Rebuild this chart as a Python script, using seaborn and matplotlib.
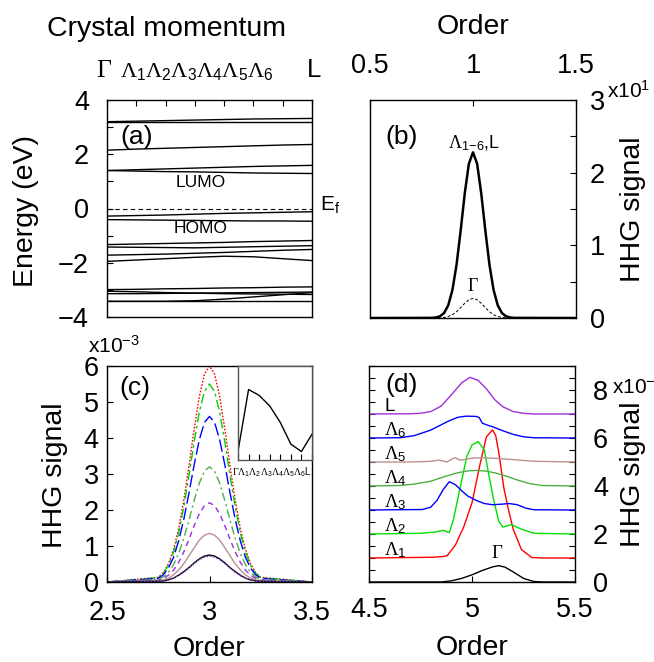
import matplotlib
matplotlib.use("Agg")
import matplotlib.pyplot as plt
import seaborn as sns
from matplotlib.ticker import MultipleLocator

# ---------------- data ----------------
k_labels = [r"$\Gamma$", r"$\Lambda_{\mathsf{1}}$", r"$\Lambda_{\mathsf{2}}$", r"$\Lambda_{\mathsf{3}}$",
            r"$\Lambda_{\mathsf{4}}$", r"$\Lambda_{\mathsf{5}}$", r"$\Lambda_{\mathsf{6}}$", "L"]
k_index = [0, 1, 2, 3, 4, 5, 6, 7]

# (a) band energies (eV) at Gamma, Lambda1..6, L
band_01 = [3.20, 3.22, 3.24, 3.26, 3.28, 3.30, 3.31, 3.32]
band_02 = [3.20, 3.20, 3.20, 3.20, 3.20, 3.20, 3.20, 3.20]
band_03 = [2.15, 2.19, 2.22, 2.25, 2.28, 2.31, 2.34, 2.36]
band_04 = [1.40, 1.43, 1.46, 1.49, 1.52, 1.55, 1.57, 1.59]
band_05 = [1.40, 1.38, 1.36, 1.35, 1.33, 1.31, 1.30, 1.29]
band_06 = [-0.28, -0.26, -0.24, -0.21, -0.18, -0.16, -0.14, -0.12]
band_07 = [-0.41, -0.42, -0.43, -0.44, -0.45, -0.46, -0.46, -0.47]
band_08 = [-1.33, -1.31, -1.29, -1.27, -1.25, -1.22, -1.20, -1.18]
band_09 = [-1.42, -1.43, -1.44, -1.45, -1.43, -1.41, -1.39, -1.37]
band_10 = [-1.72, -1.70, -1.68, -1.65, -1.62, -1.58, -1.54, -1.51]
band_11 = [-1.95, -1.90, -1.85, -1.80, -1.76, -1.78, -1.85, -1.92]
band_12 = [-2.99, -2.98, -2.96, -2.95, -2.93, -2.92, -2.90, -2.89]
band_13 = [-3.05, -3.07, -3.10, -3.12, -3.14, -3.15, -3.16, -3.17]
band_14 = [-3.14, -3.14, -3.13, -3.12, -3.11, -3.10, -3.09, -3.08]
band_15 = [-3.42, -3.42, -3.42, -3.42, -3.42, -3.42, -3.42, -3.42]
band_16 = [-3.42, -3.42, -3.42, -3.40, -3.34, -3.26, -3.18, -3.10]
bands = [band_01, band_02, band_03, band_04, band_05, band_06, band_07, band_08,
         band_09, band_10, band_11, band_12, band_13, band_14, band_15, band_16]
fermi_level = 0.0

# (b) first harmonic (x10^1)
order_b = [0.50, 0.80, 0.82, 0.84, 0.86, 0.88, 0.90, 0.92, 0.94, 0.96, 0.98, 1.00,
           1.02, 1.04, 1.06, 1.08, 1.10, 1.12, 1.14, 1.16, 1.18, 1.20, 1.50]
hhg_b_lambda = [0, 0.002, 0.007, 0.024, 0.070, 0.176, 0.385, 0.730, 1.201, 1.715, 2.123, 2.28,
                2.123, 1.715, 1.201, 0.730, 0.385, 0.176, 0.070, 0.024, 0.007, 0.002, 0]
hhg_b_gamma = [0, 0, 0.001, 0.003, 0.008, 0.021, 0.046, 0.086, 0.142, 0.203, 0.251, 0.27,
               0.251, 0.203, 0.142, 0.086, 0.046, 0.021, 0.008, 0.003, 0.001, 0, 0]

# (c) third harmonic (x10^-3)
order_c = [2.50, 2.75, 2.775, 2.80, 2.825, 2.85, 2.875, 2.90, 2.925, 2.95, 2.975, 3.00,
           3.025, 3.05, 3.075, 3.10, 3.125, 3.15, 3.175, 3.20, 3.225, 3.25, 3.50]
hhg_c_L1 = [0, 0.13, 0.26, 0.51, 0.91, 1.49, 2.29, 3.23, 4.24, 5.14, 5.77, 6.00,
            5.77, 5.14, 4.24, 3.23, 2.29, 1.49, 0.91, 0.51, 0.26, 0.13, 0]
hhg_c_L2 = [0, 0.12, 0.24, 0.47, 0.83, 1.37, 2.10, 2.96, 3.89, 4.71, 5.29, 5.50,
            5.29, 4.71, 3.89, 2.96, 2.10, 1.37, 0.83, 0.47, 0.24, 0.12, 0]
hhg_c_L3 = [0, 0.10, 0.20, 0.39, 0.69, 1.15, 1.75, 2.48, 3.25, 3.94, 4.43, 4.60,
            4.43, 3.94, 3.25, 2.48, 1.75, 1.15, 0.69, 0.39, 0.20, 0.10, 0]
hhg_c_L4 = [0, 0.07, 0.14, 0.27, 0.48, 0.80, 1.22, 1.72, 2.26, 2.74, 3.08, 3.20,
            3.08, 2.74, 2.26, 1.72, 1.22, 0.80, 0.48, 0.27, 0.14, 0.07, 0]
hhg_c_L = [0, 0.05, 0.10, 0.19, 0.33, 0.55, 0.84, 1.19, 1.56, 1.89, 2.12, 2.20,
           2.12, 1.89, 1.56, 1.19, 0.84, 0.55, 0.33, 0.19, 0.10, 0.05, 0]
hhg_c_L5 = [0, 0.03, 0.06, 0.11, 0.20, 0.34, 0.51, 0.73, 0.95, 1.16, 1.30, 1.35,
            1.30, 1.16, 0.95, 0.73, 0.51, 0.34, 0.20, 0.11, 0.06, 0.03, 0]
hhg_c_G = [0, 0.02, 0.03, 0.06, 0.11, 0.19, 0.29, 0.40, 0.53, 0.64, 0.72, 0.75,
           0.72, 0.64, 0.53, 0.40, 0.29, 0.19, 0.11, 0.06, 0.03, 0.02, 0]
hhg_c_L6 = [0, 0.02, 0.03, 0.06, 0.11, 0.18, 0.27, 0.39, 0.51, 0.62, 0.69, 0.72,
            0.69, 0.62, 0.51, 0.39, 0.27, 0.18, 0.11, 0.06, 0.03, 0.02, 0]
# inset: peak 3rd-harmonic signal vs k-point
inset_peak = [0.75, 6.00, 5.50, 4.60, 3.20, 1.35, 0.72, 2.20]

# (d) fifth harmonic, curves offset by 1 (x10^-5)
d_G_x = [4.5, 4.85, 4.9, 4.95, 5.0, 5.05, 5.1, 5.13, 5.16, 5.2, 5.25, 5.3, 5.35, 5.5]
d_G_y = [0, 0, 0.05, 0.15, 0.30, 0.48, 0.63, 0.68, 0.62, 0.42, 0.15, 0.02, 0, 0]
d_L1_x = [4.5, 4.8, 4.86, 4.88, 4.92, 4.96, 5.0, 5.04, 5.07, 5.1, 5.115, 5.13, 5.155, 5.18, 5.2, 5.24, 5.29, 5.35, 5.5]
d_L1_y = [1.0, 1.03, 1.06, 1.10, 1.55, 2.30, 3.30, 4.95, 6.05, 6.34, 6.10, 5.40, 3.90, 2.90, 2.20, 1.35, 1.02, 1.0, 1.0]
d_L2_x = [4.5, 4.75, 4.82, 4.86, 4.89, 4.91, 4.94, 4.975, 5.0, 5.03, 5.06, 5.08, 5.105, 5.13, 5.15, 5.19, 5.24, 5.3, 5.5]
d_L2_y = [2.0, 2.03, 2.08, 2.15, 2.06, 2.60, 3.84, 5.23, 5.71, 5.85, 5.50, 4.54, 3.43, 2.52, 2.29, 2.39, 2.20, 2.03, 2.0]
d_L3_x = [4.5, 4.76, 4.8, 4.83, 4.86, 4.89, 4.92, 4.95, 4.98, 5.02, 5.06, 5.1, 5.14, 5.18, 5.22, 5.26, 5.3, 5.5]
d_L3_y = [3.0, 3.02, 3.12, 3.40, 3.85, 4.18, 4.05, 3.80, 3.58, 3.40, 3.27, 3.22, 3.24, 3.27, 3.22, 3.08, 3.01, 3.0]
d_L4_x = [4.5, 4.65, 4.72, 4.8, 4.87, 4.93, 4.98, 5.02, 5.07, 5.12, 5.17, 5.22, 5.28, 5.34, 5.5]
d_L4_y = [4.0, 4.02, 4.08, 4.20, 4.40, 4.55, 4.63, 4.65, 4.62, 4.53, 4.40, 4.25, 4.10, 4.02, 4.0]
d_L5_x = [4.5, 4.7, 4.8, 4.84, 4.86, 4.88, 4.9, 4.92, 4.94, 4.96, 5.0, 5.05, 5.1, 5.2, 5.3, 5.5]
d_L5_y = [5.0, 5.0, 5.03, 5.08, 5.04, 5.0, 5.12, 5.18, 5.08, 5.10, 5.16, 5.18, 5.16, 5.10, 5.03, 5.0]
d_L6_x = [4.5, 4.65, 4.72, 4.8, 4.88, 4.93, 4.97, 5.02, 5.035, 5.05, 5.07, 5.1, 5.15, 5.2, 5.25, 5.3, 5.5]
d_L6_y = [6.0, 6.01, 6.10, 6.33, 6.68, 6.86, 6.91, 6.90, 6.85, 6.62, 6.55, 6.47, 6.30, 6.15, 6.05, 6.01, 6.0]
d_LL_x = [4.5, 4.7, 4.75, 4.8, 4.85, 4.9, 4.95, 4.99, 5.03, 5.07, 5.11, 5.15, 5.2, 5.25, 5.3, 5.5]
d_LL_y = [7.0, 7.01, 7.03, 7.10, 7.33, 7.80, 8.30, 8.53, 8.40, 8.05, 7.60, 7.30, 7.10, 7.03, 7.0, 7.0]
d_labels = [r"$\Lambda_{\mathsf{1}}$", r"$\Lambda_{\mathsf{2}}$", r"$\Lambda_{\mathsf{3}}$", r"$\Lambda_{\mathsf{4}}$",
            r"$\Lambda_{\mathsf{5}}$", r"$\Lambda_{\mathsf{6}}$", "L"]
d_offsets = [1, 2, 3, 4, 5, 6, 7]

# ---------------- style ----------------
sns.set_theme(style="ticks")
plt.rcParams['font.family'] = ['Liberation Sans', 'DejaVu Sans']
plt.rcParams['mathtext.fontset'] = 'custom'
plt.rcParams['mathtext.rm'] = 'Liberation Serif'
plt.rcParams['mathtext.it'] = 'Liberation Serif:italic'
plt.rcParams['mathtext.bf'] = 'Liberation Serif:bold'
plt.rcParams['mathtext.sf'] = 'Liberation Sans'
plt.rcParams['axes.linewidth'] = 1.0
plt.rcParams['axes.edgecolor'] = 'black'
plt.rcParams['text.color'] = 'black'
plt.rcParams['axes.labelcolor'] = 'black'
plt.rcParams['xtick.color'] = 'black'
plt.rcParams['ytick.color'] = 'black'
plt.rcParams['xtick.labelcolor'] = 'black'
plt.rcParams['ytick.labelcolor'] = 'black'

W, H = 654, 662
fig = plt.figure(figsize=(W / 100, H / 100), dpi=100)


def box(x0, y0, x1, y1):
    return [x0 / W, 1 - y1 / H, (x1 - x0) / W, (y1 - y0) / H]


TICK = 19.5
LAB = 20.5
ax_a = fig.add_axes(box(107, 100, 312, 317))
ax_b = fig.add_axes(box(370, 100, 576, 318))
ax_c = fig.add_axes(box(107, 366, 312, 582))
ax_d = fig.add_axes(box(369, 366, 575, 582))
ax_in = fig.add_axes(box(238, 366, 312, 460))

# ---------------- (a) ----------------
for b in bands:
    sns.lineplot(x=k_index, y=b, ax=ax_a, color='black', lw=1.0, errorbar=None)
sns.lineplot(x=[k_index[0], k_index[-1]], y=[fermi_level, fermi_level], ax=ax_a,
             color='black', lw=0.8, linestyle=(0, (4, 3)), errorbar=None)
ax_a.set_xlim(0, 7)
ax_a.set_ylim(-4, 4)
ax_a.set_xticks(k_index)
ax_a.tick_params(axis='x', which='both', bottom=False, top=True, labelbottom=False,
                 labeltop=False, direction='in', length=4, width=0.8)
ax_a.set_yticks([-4, -2, 0, 2, 4])
ax_a.set_yticklabels(["\u22124", "\u22122", "0", "2", "4"])
ax_a.yaxis.set_minor_locator(MultipleLocator(1))
ax_a.tick_params(axis='y', which='both', left=True, right=False, direction='in',
                 length=4, width=0.8, labelsize=TICK, pad=13)
ax_a.set_ylabel("Energy (eV)", fontsize=LAB)
ax_a.yaxis.set_label_coords(-0.33, 0.49)
ax_a.xaxis.set_label_position('top')
ax_a.set_xlabel("Crystal momentum", fontsize=LAB)
ax_a.xaxis.set_label_coords(0.29, 1.293)
# k-point names written above the panel, as in the original (one run of text)
ax_a.text(-0.054, 1.106, k_labels[0], transform=ax_a.transAxes, ha='left', va='baseline',
          fontsize=18.5, clip_on=False)
ax_a.text(0.063, 1.106, "".join(k_labels[1:7]), transform=ax_a.transAxes, ha='left',
          va='baseline', fontsize=16, clip_on=False)
ax_a.text(0.976, 1.106, k_labels[7], transform=ax_a.transAxes, ha='left', va='baseline',
          fontsize=18.5, clip_on=False)
ax_a.text(1.0, 2.65, "(a)", fontsize=19, ha='center', va='center')
ax_a.text(3.2, 0.95, "LUMO", fontsize=12.5, ha='center', va='center')
ax_a.text(3.2, -0.72, "HOMO", fontsize=12.5, ha='center', va='center')
ax_a.text(1.039, 0.493, "E$_{\\mathsf{f}}$", transform=ax_a.transAxes, fontsize=15,
          ha='left', va='baseline', clip_on=False)

# ---------------- (b) ----------------
sns.lineplot(x=order_b, y=hhg_b_lambda, ax=ax_b, color='black', lw=1.8, errorbar=None)
sns.lineplot(x=order_b, y=hhg_b_gamma, ax=ax_b, color='black', lw=0.7,
             linestyle=(0, (3, 2)), errorbar=None)
ax_b.set_xlim(0.5, 1.5)
ax_b.set_ylim(0, 3)
ax_b.set_xticks([0.5, 1, 1.5])
ax_b.set_xticklabels(["0.5", "1", "1.5"])
ax_b.tick_params(axis='x', which='both', bottom=False, top=True, labelbottom=False,
                 labeltop=True, direction='in', length=4, width=0.8, labelsize=TICK, pad=15)
ax_b.set_yticks([0, 1, 2, 3])
ax_b.yaxis.set_minor_locator(MultipleLocator(0.5))
ax_b.tick_params(axis='y', which='both', left=False, right=True, labelleft=False,
                 labelright=True, direction='in', length=4, width=0.8, labelsize=TICK, pad=10)
ax_b.yaxis.set_label_position('right')
ax_b.set_ylabel("HHG signal", fontsize=LAB)
ax_b.yaxis.set_label_coords(1.214, 0.5)
ax_b.xaxis.set_label_position('top')
ax_b.set_xlabel("Order", fontsize=LAB)
ax_b.xaxis.set_label_coords(0.5, 1.303)
ax_b.text(1.150, 1.009, "x10$^{\\mathsf{1}}$", transform=ax_b.transAxes, fontsize=15,
          ha='left', va='baseline', clip_on=False)
ax_b.text(0.655, 2.49, "(b)", fontsize=19, ha='center', va='center')
ax_b.text(1.005, 2.40, r"$\Lambda_{\mathsf{1\!-\!6}}$,L", fontsize=13, ha='center', va='center')
ax_b.text(1.0, 0.43, r"$\Gamma$", fontsize=13, ha='center', va='center')

# ---------------- (c) ----------------
c_specs = [
    (hhg_c_L1, '#ff0000', (0, (1.2, 1.2))),
    (hhg_c_L2, '#00d000', (0, (7, 2.5, 2, 2.5))),
    (hhg_c_L3, '#0000ff', (0, (9, 3))),
    (hhg_c_L4, '#4cb040', (0, (6, 2.5, 1.5, 2.5))),
    (hhg_c_L, '#9b30e0', (0, (4, 3))),
    (hhg_c_L5, '#bc8f8f', '-'),
    (hhg_c_G, '#000000', '-'),
    (hhg_c_L6, '#8040c0', (0, (1.2, 1.2))),
]
for yy, col, ls in c_specs:
    sns.lineplot(x=order_c, y=yy, ax=ax_c, color=col, lw=1.0, linestyle=ls, errorbar=None)
ax_c.set_xlim(2.5, 3.5)
ax_c.set_ylim(0, 6)
ax_c.set_xticks([2.5, 3, 3.5])
ax_c.set_xticklabels(["2.5", "3", "3.5"])
ax_c.set_yticks([0, 1, 2, 3, 4, 5, 6])
ax_c.tick_params(axis='x', which='both', bottom=True, top=False, direction='in',
                 length=4, width=0.8, labelsize=TICK, pad=13)
ax_c.tick_params(axis='y', which='both', left=True, right=False, direction='in',
                 length=4, width=0.8, labelsize=TICK, pad=6)
ax_c.set_xlabel("Order", fontsize=LAB)
ax_c.xaxis.set_label_coords(0.5, -0.25)
ax_c.set_ylabel("HHG signal", fontsize=LAB)
ax_c.yaxis.set_label_coords(-0.19, 0.495)
ax_c.text(-0.093, 1.06, "x10$^{\\mathsf{-3}}$", transform=ax_c.transAxes, fontsize=15,
          ha='left', va='baseline', clip_on=False)
ax_c.text(2.637, 5.39, "(c)", fontsize=19, ha='center', va='center')

# inset
sns.lineplot(x=k_index, y=inset_peak, ax=ax_in, color='black', lw=1.0, errorbar=None)
ax_in.set_xlim(0, 7)
ax_in.set_ylim(0, 8)
ax_in.set_xticks(k_index)
ax_in.set_xticklabels([])
ax_in.set_yticks([])
ax_in.tick_params(axis='x', direction='in', length=4, width=0.8)
ax_in.text(-0.08, -0.16, "".join(k_labels), transform=ax_in.transAxes, ha='left',
           va='baseline', fontsize=7.0, clip_on=False)
for sp in ax_in.spines.values():
    sp.set_color('#555555')
    sp.set_linewidth(1.0)

# ---------------- (d) ----------------
d_specs = [
    (d_G_x, d_G_y, '#000000'),
    (d_L1_x, d_L1_y, '#ff0000'),
    (d_L2_x, d_L2_y, '#00e000'),
    (d_L3_x, d_L3_y, '#0000ff'),
    (d_L4_x, d_L4_y, '#4cb040'),
    (d_L5_x, d_L5_y, '#bc8f8f'),
    (d_L6_x, d_L6_y, '#0000ff'),
    (d_LL_x, d_LL_y, '#a030d8'),
]
for xx, yy, col in d_specs:
    sns.lineplot(x=xx, y=yy, ax=ax_d, color=col, lw=1.0, errorbar=None)
ax_d.set_xlim(4.5, 5.5)
ax_d.set_ylim(0, 9)
ax_d.set_xticks([4.5, 5, 5.5])
ax_d.set_xticklabels(["4.5", "5", "5.5"])
ax_d.set_yticks([0, 2, 4, 6, 8])
ax_d.yaxis.set_minor_locator(MultipleLocator(0.5))
ax_d.tick_params(axis='x', which='both', bottom=True, top=False, direction='in',
                 length=4, width=0.8, labelsize=TICK, pad=11)
ax_d.tick_params(axis='y', which='both', left=True, right=True, labelleft=False,
                 labelright=True, direction='in', length=4, width=0.8, labelsize=TICK, pad=13)
ax_d.yaxis.set_label_position('right')
ax_d.set_ylabel("HHG signal", fontsize=LAB)
ax_d.yaxis.set_label_coords(1.218, 0.5)
ax_d.set_xlabel("Order", fontsize=LAB)
ax_d.xaxis.set_label_coords(0.5, -0.245)
ax_d.text(1.18, 0.870, "x10$^{\\mathsf{-5}}$", transform=ax_d.transAxes, fontsize=15,
          ha='left', va='baseline', clip_on=False)
ax_d.text(4.66, 8.2, "(d)", fontsize=19, ha='center', va='center')
for lab, off in zip(d_labels, d_offsets):
    ax_d.text(4.575, off + 0.33, lab, fontsize=13.5, ha='left', va='center')
ax_d.text(5.12, 1.2, r"$\Gamma$", fontsize=13.5, ha='center', va='center')

fig.savefig("out.png", dpi=100)
